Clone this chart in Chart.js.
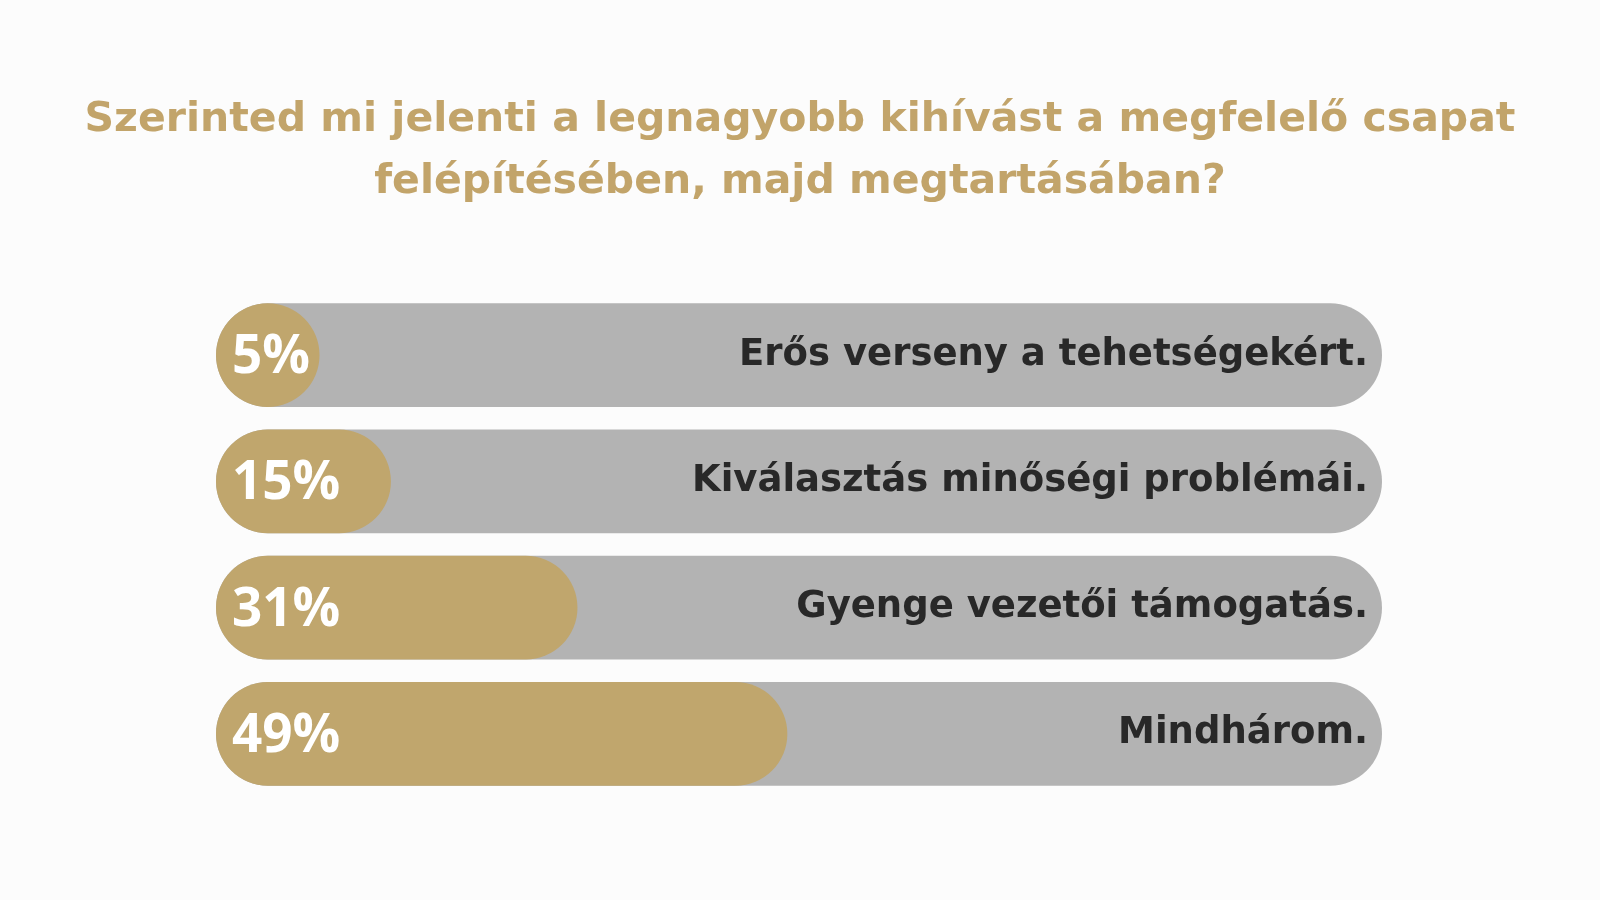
<!DOCTYPE html>
<html>
<head>
<meta charset="utf-8">
<script src="https://cdn.jsdelivr.net/npm/chart.js@4"></script>
<style>
  html, body { margin: 0; padding: 0; background: #fcfcfc; }
  #wrap { width: 1600px; height: 900px; position: relative; }
</style>
</head>
<body>
<div id="wrap"><canvas id="c" width="1600" height="900"></canvas></div>
<script>
const titleLines = [
  'Szerinted mi jelenti a legnagyobb kihívást a megfelelő csapat',
  'felépítésében, majd megtartásában?'
];
const categories = [
  'Erős verseny a tehetségekért.',
  'Kiválasztás minőségi problémái.',
  'Gyenge vezetői támogatás.',
  'Mindhárom.'
];
const percentValues = [5, 15, 31, 49];
const trackValues = [100, 100, 100, 100];

const GOLD = '#c0a66d';
const GREY = '#b3b3b3';

// gold pill never narrower than its own height (like a progress bar min-width)
const minPillPlugin = {
  id: 'minPill',
  afterDatasetsUpdate(chart) {
    const meta = chart.getDatasetMeta(0);
    meta.data.forEach(el => {
      const h = el.height;
      if (el.x - el.base < h) el.x = el.base + h;
    });
  }
};

const labelPlugin = {
  id: 'barLabels',
  afterDatasetsDraw(chart) {
    const ctx = chart.ctx;
    const gold = chart.getDatasetMeta(0);
    const track = chart.getDatasetMeta(1);
    ctx.save();
    ctx.textBaseline = 'middle';
    track.data.forEach((el, i) => {
      ctx.fillStyle = '#282828';
      ctx.textAlign = 'right';
      ctx.font = 'bold 37px "DejaVu Sans", sans-serif';
      ctx.fillText(categories[i], el.x - 14, el.y);
    });
    gold.data.forEach((el, i) => {
      ctx.fillStyle = '#ffffff';
      ctx.textAlign = 'left';
      ctx.font = '700 53px "Open Sans", "Noto Sans", sans-serif';
      ctx.fillText(percentValues[i] + '%', el.base + 16, el.y + 3);
    });
    ctx.restore();
  }
};

const hiddenAxis = (position, w) => ({
  type: 'category',
  position: position,
  display: true,
  grid: { display: false, drawTicks: false },
  border: { display: false },
  ticks: { display: false },
  afterFit(scale) { scale.width = w; }
});

new Chart(document.getElementById('c'), {
  type: 'bar',
  data: {
    labels: categories,
    datasets: [
      {
        data: percentValues,
        backgroundColor: GOLD,
        borderRadius: 60,
        borderSkipped: false,
        grouped: false,
        order: 0,
        barPercentage: 0.82,
        categoryPercentage: 1
      },
      {
        data: trackValues,
        backgroundColor: GREY,
        borderRadius: 60,
        borderSkipped: false,
        grouped: false,
        order: 1,
        barPercentage: 0.82,
        categoryPercentage: 1
      }
    ]
  },
  options: {
    indexAxis: 'y',
    responsive: false,
    animation: false,
    layout: { padding: { left: 0, right: 0, top: 0, bottom: 103 } },
    scales: {
      x: { min: 0, max: 100, display: false },
      y: hiddenAxis('left', 216),
      yRight: hiddenAxis('right', 218)
    },
    plugins: {
      legend: { display: false },
      tooltip: { enabled: false },
      title: {
        display: true,
        text: titleLines,
        color: '#c2a46a',
        font: { family: '"DejaVu Sans", sans-serif', size: 41, weight: 'bold', lineHeight: 1.5 },
        padding: { top: 90, bottom: 79 }
      }
    }
  },
  plugins: [minPillPlugin, labelPlugin]
});
</script>
</body>
</html>
